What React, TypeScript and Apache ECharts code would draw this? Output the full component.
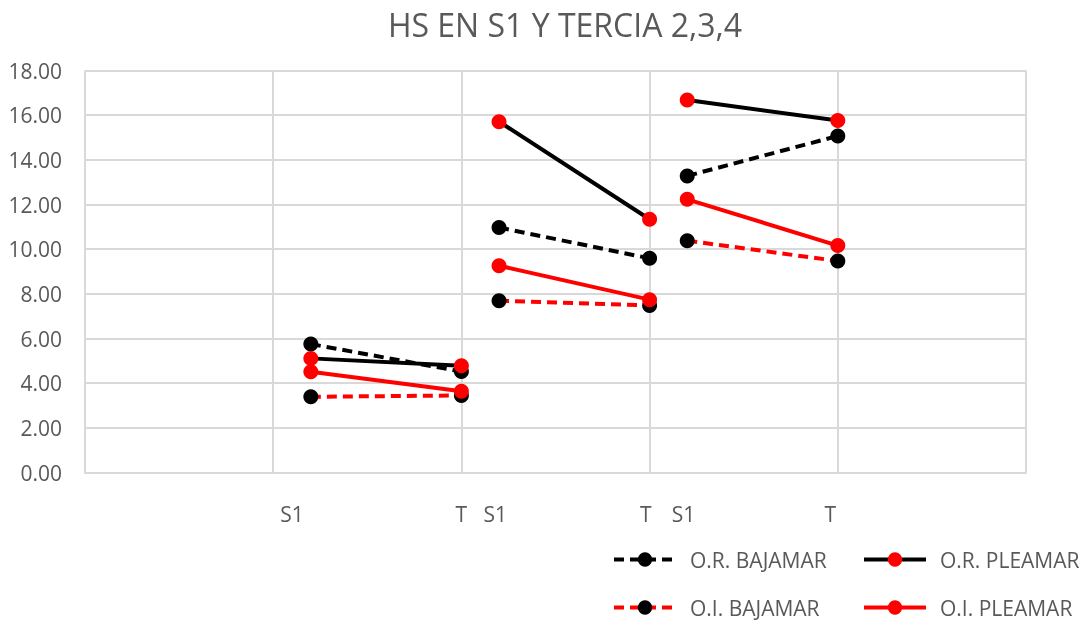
import React, { useEffect, useRef } from "react";
import * as echarts from "echarts";

const TITLE = "HS EN S1 Y TERCIA 2,3,4";
const xPositions = [1.2, 2, 2.2, 3, 3.2, 4];
const orBajamar = [5.75, 4.52, 10.97, 9.59, 13.28, 15.07];
const orPleamar = [5.11, 4.78, 15.71, 11.34, 16.68, 15.76];
const oiBajamar = [3.39, 3.45, 7.69, 7.48, 10.38, 9.47];
const oiPleamar = [4.51, 3.64, 9.26, 7.74, 12.23, 10.16];
const tickLabels = ["S1", "T", "S1", "T", "S1", "T"];
const tickLabelPositions = [1.1, 2.0, 2.18, 2.98, 3.18, 3.96];
const yTicks = [0, 2, 4, 6, 8, 10, 12, 14, 16, 18];

const FONT = "'Open Sans', 'Liberation Sans', sans-serif";
const GRAY = "#595959";
const GRID = "#d9d9d9";
const STEP = 0.02;
const XMAX = 5;

function segments(values: number[]) {
  const out: any[] = [];
  for (let i = 0; i < values.length; i++) {
    if (i > 0 && i % 2 === 0) out.push([(xPositions[i - 1] + xPositions[i]) / 2, "-"]);
    out.push([xPositions[i], values[i]]);
  }
  return out;
}

const categories: string[] = [];
const nCat = Math.round(XMAX / STEP);
for (let i = 0; i <= nCat; i++) {
  const idx = tickLabelPositions.findIndex((p) => Math.round(p / STEP) === i);
  categories.push(idx >= 0 ? tickLabels[idx] : "");
}

export default function App() {
  const ref = useRef<HTMLDivElement>(null);
  useEffect(() => {
    if (!ref.current) return;
    const chart = echarts.init(ref.current, undefined, { renderer: "svg" });
    const mk = (name: string, values: number[], lineColor: string, markerColor: string, dashed: boolean) => ({
      name,
      type: "line",
      xAxisIndex: 0,
      data: segments(values),
      symbol: "circle",
      symbolSize: 15,
      connectNulls: false,
      lineStyle: { color: lineColor, width: 4, type: dashed ? [10, 6] : "solid" },
      itemStyle: { color: markerColor, borderWidth: 0 },
    });
    const legendBase = {
      itemWidth: 62,
      itemHeight: 18,
      padding: 0,
      lineStyle: { width: 4 },
      textStyle: { color: GRAY, fontSize: 21, lineHeight: 18, fontFamily: FONT, padding: [0, 0, 0, 9] },
      selectedMode: false,
    };
    chart.setOption({
      animation: false,
      title: {
        text: TITLE,
        left: 560,
        top: 3,
        textAlign: "center",
        textStyle: { color: GRAY, fontSize: 32, fontWeight: "normal", fontFamily: FONT },
      },
      legend: [
        { ...legendBase, data: ["O.R. BAJAMAR"], left: 612, top: 549 },
        { ...legendBase, data: ["O.R. PLEAMAR"], left: 862, top: 549 },
        { ...legendBase, data: ["O.I. BAJAMAR"], left: 612, top: 597 },
        { ...legendBase, data: ["O.I. PLEAMAR"], left: 862, top: 597 },
      ],
      grid: { left: 85, right: 58, top: 70.5, bottom: 148.5, containLabel: false },
      xAxis: [
        {
          type: "value",
          position: "top",
          min: 0,
          max: XMAX,
          interval: 1,
          axisLine: { show: false },
          axisTick: { show: false },
          axisLabel: { show: false },
          splitLine: { show: true, lineStyle: { color: GRID, width: 2 } },
        },
        {
          type: "category",
          position: "bottom",
          data: categories,
          boundaryGap: false,
          axisLine: { show: true, lineStyle: { color: GRID, width: 2 } },
          axisTick: { show: false },
          splitLine: { show: false },
          axisLabel: { interval: 0, color: GRAY, fontSize: 21, fontFamily: FONT, margin: 31 },
        },
      ],
      yAxis: {
        type: "value",
        min: yTicks[0],
        max: yTicks[yTicks.length - 1],
        interval: 2,
        axisLine: { show: false },
        axisTick: { show: false },
        splitLine: { show: true, lineStyle: { color: GRID, width: 2 } },
        axisLabel: {
          color: GRAY,
          fontSize: 21,
          fontFamily: FONT,
          margin: 23,
          formatter: (v: number) => v.toFixed(2),
        },
      },
      series: [
        mk("O.R. BAJAMAR", orBajamar, "#000000", "#000000", true),
        mk("O.R. PLEAMAR", orPleamar, "#000000", "#ff0000", false),
        mk("O.I. BAJAMAR", oiBajamar, "#ff0000", "#000000", true),
        mk("O.I. PLEAMAR", oiPleamar, "#ff0000", "#ff0000", false),
      ],
    });
    return () => chart.dispose();
  }, []);
  return (
    <div
      ref={ref}
      style={{ position: "fixed", left: 0, top: 0, width: 1084, height: 621 }}
    />
  );
}
